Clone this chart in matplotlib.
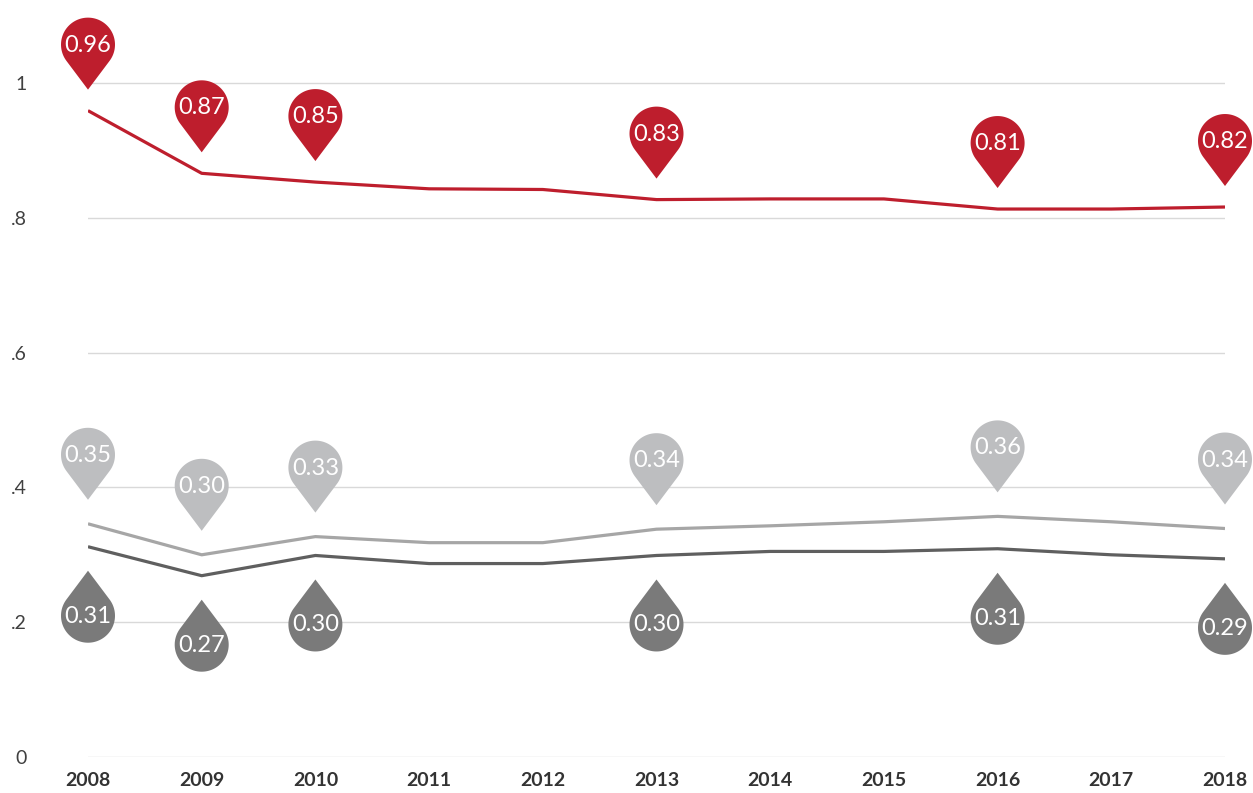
import numpy as np
import matplotlib
matplotlib.use("Agg")
import matplotlib.pyplot as plt
from matplotlib.path import Path
from matplotlib.patches import PathPatch
import matplotlib.transforms as mtransforms

years = [2008, 2009, 2010, 2011, 2012, 2013, 2014, 2015, 2016, 2017, 2018]
red_vals = [0.959, 0.866, 0.853, 0.843, 0.842, 0.827, 0.828, 0.828, 0.813, 0.813, 0.816]
light_vals = [0.346, 0.300, 0.327, 0.318, 0.318, 0.338, 0.343, 0.349, 0.357, 0.349, 0.339]
dark_vals = [0.312, 0.269, 0.299, 0.287, 0.287, 0.299, 0.305, 0.305, 0.309, 0.300, 0.294]
label_years = [2008, 2009, 2010, 2013, 2016, 2018]
y_ticks = [0, 0.2, 0.4, 0.6, 0.8, 1.0]
y_tick_labels = ["0", ".2", ".4", ".6", ".8", "1"]

RED = "#BE1E2D"
LIGHT_LINE = "#A6A6A6"
LIGHT_PIN = "#BDBEC0"
DARK_LINE = "#5F5F5F"
DARK_PIN = "#7A7A7A"

W, H = 1253, 793
dpi = 100
fig = plt.figure(figsize=(W / dpi, H / dpi), dpi=dpi)
left_px, right_px = 88, 1225
y0_px, y1_px = 757, 83
ppu = (y0_px - y1_px)  # px per unit
ytop = 1.1
top_px = y0_px - ytop * ppu
ax = fig.add_axes([left_px / W, (H - y0_px) / H, (right_px - left_px) / W, (y0_px - top_px) / H])
ax.set_xlim(2008, 2018)
ax.set_ylim(0, ytop)

for t in y_ticks:
    ax.axhline(t, color="#D9D9D9", lw=1.0, zorder=1)

ax.plot(years, red_vals, color=RED, lw=2.3, zorder=3, solid_capstyle="butt")
ax.plot(years, light_vals, color=LIGHT_LINE, lw=2.3, zorder=3, solid_capstyle="butt")
ax.plot(years, dark_vals, color=DARK_LINE, lw=2.3, zorder=3, solid_capstyle="butt")

for s in ax.spines.values():
    s.set_visible(False)
ax.set_yticks(y_ticks)
ax.set_yticklabels(y_tick_labels, fontsize=14, color="#404040", family="Lato")
ax.set_xticks(years)
ax.set_xticklabels([str(y) for y in years], fontsize=14, fontweight="bold", color="#333333", family="Lato")
ax.tick_params(axis="y", length=0, pad=44)
ax.tick_params(axis="x", length=0, pad=11)


def pin_path(offset, d, r, up=True):
    # tip at (0, s*offset), circle center at (0, s*(offset+d)); units: px
    s = 1 if up else -1
    alpha = np.arccos(r / d)
    base = -np.pi / 2 if up else np.pi / 2  # direction from center to tip
    angs = np.linspace(base + alpha, base + 2 * np.pi - alpha, 80)
    cx, cy = 0.0, s * (offset + d)
    pts = [(0.0, s * offset)]
    for a in angs:
        pts.append((cx + r * np.cos(a), cy + r * np.sin(a)))
    pts.append((0.0, s * offset))
    pts = np.array(pts) / dpi  # inches
    codes = [Path.MOVETO] + [Path.LINETO] * (len(pts) - 2) + [Path.CLOSEPOLY]
    return Path(pts, codes), (cx / dpi, cy / dpi)


def add_pins(vals, color, offset, up, text_color="white"):
    d, r = 45, 27
    path, (cx, cy) = pin_path(offset, d, r, up)
    for yr, v in zip(years, vals):
        if yr not in label_years:
            continue
        tr = fig.dpi_scale_trans + mtransforms.ScaledTranslation(yr, v, ax.transData)
        p = PathPatch(path, facecolor=color, edgecolor="none", transform=tr, zorder=5, clip_on=False)
        ax.add_patch(p)
        ax.text(cx, cy - 0.5 / dpi, f"{v:.2f}", transform=tr, ha="center", va="center",
                color=text_color, fontsize=17, family="Lato", zorder=6, clip_on=False)


add_pins(red_vals, RED, 21, True)
add_pins(light_vals, LIGHT_PIN, 24, True)
add_pins(dark_vals, DARK_PIN, 24, False)

fig.savefig("out.png", dpi=dpi)
